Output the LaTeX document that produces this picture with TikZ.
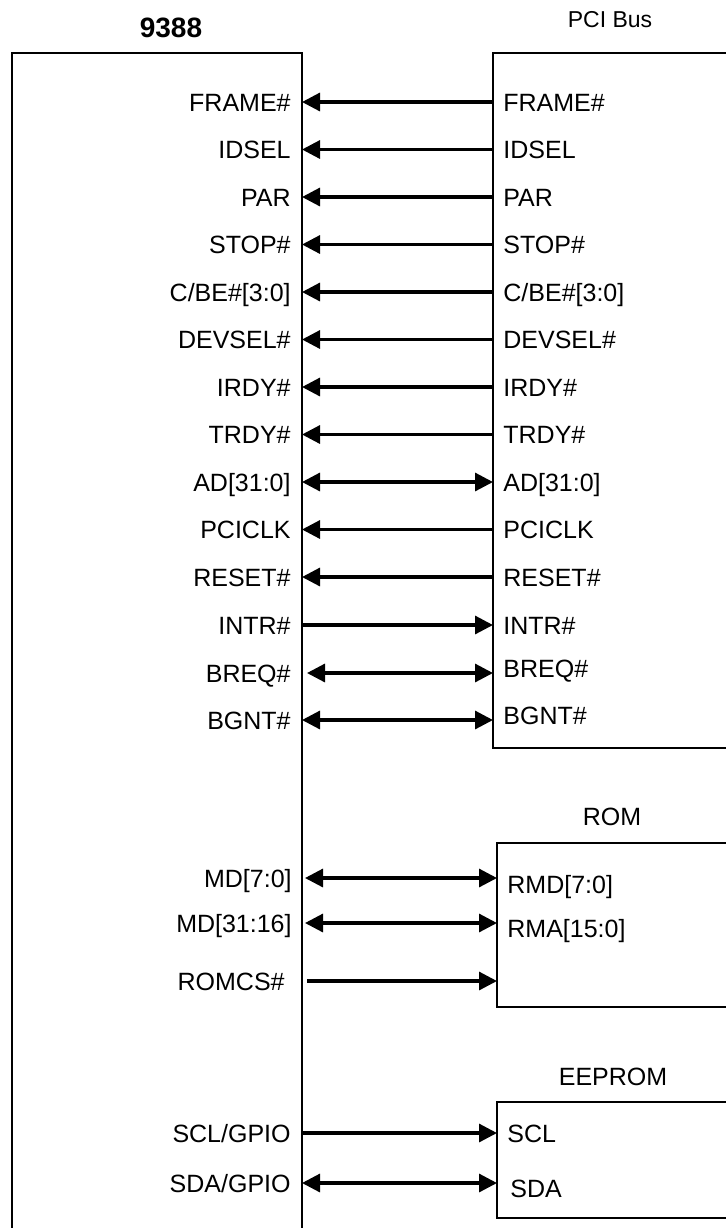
\documentclass[tikz,border=0pt]{standalone}
\usepackage{fontspec}
\setmainfont{Liberation Sans}
\usetikzlibrary{arrows.meta}

\newcommand{\pinfont}{\fontsize{12.5}{15}\selectfont}
\tikzset{
  box/.style={line width=1.1pt},
  sig/.style={line width=1.6pt},
  lpin/.style={anchor=east, inner sep=0pt, font=\pinfont, text height=9pt, text depth=0pt},
  rpin/.style={anchor=west, inner sep=0pt, font=\pinfont, text height=9pt, text depth=0pt},
  blocklabel/.style={inner sep=0pt, font=\pinfont}
}

\begin{document}
\begin{tikzpicture}[x=0.5pt, y=-0.5pt, >={Triangle[length=9pt, width=9pt]}]

  \useasboundingbox (0,0) rectangle (726,1228);
  \clip (0,0) rectangle (726,1228);

  % --- 1. ブロックの枠 ---
  \coordinate (chipE) at (302,0);
  \coordinate (pciW) at (493,0);
  \coordinate (romW) at (497,0);

  \draw[box] (12,1240) |- (302,53) -- (302,1240);
  \draw[box] (740,53) -| (493,748) -- (740,748);
  \draw[box] (740,843) -| (497,1007) -- (740,1007);
  \draw[box] (740,1102) -| (497,1218) -- (740,1218);

  % --- 2. ブロック名 ---
  \node[blocklabel, font=\fontsize{14}{16}\selectfont\bfseries] (tChip) at (171,28) {9388};
  \node[blocklabel, font=\fontsize{11.5}{14}\selectfont] (tPci) at (610,20) {PCI Bus};
  \node[blocklabel] (tRom) at (612,817) {ROM};
  \node[blocklabel] (tEep) at (613,1077) {EEPROM};

  % --- 3. PCI バスの信号 ---
  \node[lpin] (lFRAME) at (291,102) {FRAME\#};
  \node[rpin] (rFRAME) at (503,102) {FRAME\#};
  \draw[sig,<-] (chipE |- lFRAME) -- (pciW |- lFRAME);

  \node[lpin] (lIDSEL) at (291,149.5) {IDSEL};
  \node[rpin] (rIDSEL) at (503,149.5) {IDSEL};
  \draw[sig,<-] (chipE |- lIDSEL) -- (pciW |- lIDSEL);

  \node[lpin] (lPAR) at (291,197) {PAR};
  \node[rpin] (rPAR) at (503,197) {PAR};
  \draw[sig,<-] (chipE |- lPAR) -- (pciW |- lPAR);

  \node[lpin] (lSTOP) at (291,244.5) {STOP\#};
  \node[rpin] (rSTOP) at (503,244.5) {STOP\#};
  \draw[sig,<-] (chipE |- lSTOP) -- (pciW |- lSTOP);

  \node[lpin] (lCBE) at (291,292) {C/BE\#[3:0]};
  \node[rpin] (rCBE) at (503,292) {C/BE\#[3:0]};
  \draw[sig,<-] (chipE |- lCBE) -- (pciW |- lCBE);

  \node[lpin] (lDEVSEL) at (291,339.5) {DEVSEL\#};
  \node[rpin] (rDEVSEL) at (503,339.5) {DEVSEL\#};
  \draw[sig,<-] (chipE |- lDEVSEL) -- (pciW |- lDEVSEL);

  \node[lpin] (lIRDY) at (291,387) {IRDY\#};
  \node[rpin] (rIRDY) at (503,387) {IRDY\#};
  \draw[sig,<-] (chipE |- lIRDY) -- (pciW |- lIRDY);

  \node[lpin] (lTRDY) at (291,434.5) {TRDY\#};
  \node[rpin] (rTRDY) at (503,434.5) {TRDY\#};
  \draw[sig,<-] (chipE |- lTRDY) -- (pciW |- lTRDY);

  \node[lpin] (lAD) at (291,482) {AD[31:0]};
  \node[rpin] (rAD) at (503,482) {AD[31:0]};
  \draw[sig,<->] (chipE |- lAD) -- (pciW |- lAD);

  \node[lpin] (lPCICLK) at (291,529.5) {PCICLK};
  \node[rpin] (rPCICLK) at (503,529.5) {PCICLK};
  \draw[sig,<-] (chipE |- lPCICLK) -- (pciW |- lPCICLK);

  \node[lpin] (lRESET) at (291,577) {RESET\#};
  \node[rpin] (rRESET) at (503,577) {RESET\#};
  \draw[sig,<-] (chipE |- lRESET) -- (pciW |- lRESET);

  \node[lpin] (lINTR) at (291,625) {INTR\#};
  \node[rpin] (rINTR) at (503,625) {INTR\#};
  \draw[sig,->] (chipE |- lINTR) -- (pciW |- lINTR);

  % BREQ#, BGNT# は右側のラベルが少し上
  \node[lpin] (lBREQ) at (291,673) {BREQ\#};
  \node[rpin] (rBREQ) at (503,668) {BREQ\#};
  \draw[sig,<->] ([xshift=2.5pt]chipE |- lBREQ) -- (pciW |- lBREQ);

  \node[lpin] (lBGNT) at (291,720) {BGNT\#};
  \node[rpin] (rBGNT) at (503,715) {BGNT\#};
  \draw[sig,<->] (chipE |- lBGNT) -- (pciW |- lBGNT);

  % --- 4. ROM の信号 ---
  \node[lpin] (lMDlo) at (292,878) {MD[7:0]};
  \node[rpin] (rRMD) at (507,884) {RMD[7:0]};
  \draw[sig,<->] ([xshift=1.5pt]chipE |- lMDlo) -- (romW |- lMDlo);

  \node[lpin] (lMDhi) at (292,923) {MD[31:16]};
  \node[rpin] (rRMA) at (507,928) {RMA[15:0]};
  \draw[sig,<->] ([xshift=1.5pt]chipE |- lMDhi) -- (romW |- lMDhi);

  \node[lpin] (lROMCS) at (285,981) {ROMCS\#};
  \draw[sig,->] ([xshift=2.5pt]chipE |- lROMCS) -- (romW |- lROMCS);

  % --- 5. EEPROM の信号 ---
  \node[lpin] (lSCL) at (291,1133) {SCL/GPIO};
  \node[rpin] (rSCL) at (507,1133) {SCL};
  \draw[sig,->] (chipE |- lSCL) -- (romW |- lSCL);

  \node[lpin] (lSDA) at (291,1183) {SDA/GPIO};
  \node[rpin] (rSDA) at (510,1188) {SDA};
  \draw[sig,<->] (chipE |- lSDA) -- (romW |- lSDA);

\end{tikzpicture}
\end{document}
